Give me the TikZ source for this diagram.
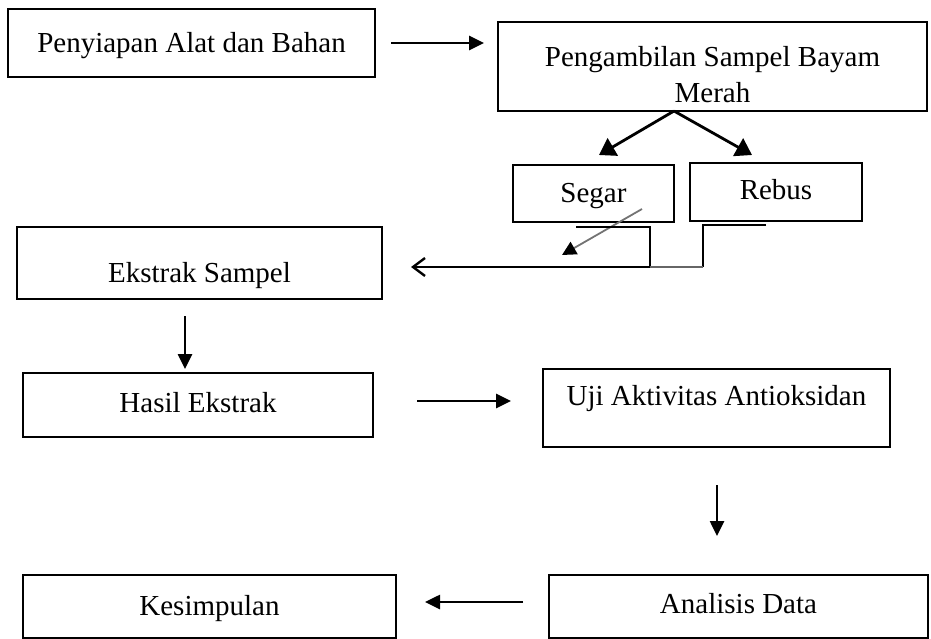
\documentclass[tikz,border=0pt]{standalone}
\usepackage{fontspec}
\setmainfont{Liberation Serif}
\usetikzlibrary{arrows.meta}
\begin{document}
\begin{tikzpicture}[x=1pt,y=-1pt,
  box/.style={draw, line width=2pt, inner sep=0pt, outer sep=0pt},
  txt/.style={inner sep=0pt, anchor=base, font=\fontsize{29}{35}\selectfont},
  arr/.style={line width=2.6pt, -{Triangle[length=15pt,width=14pt]}},
  forkarr/.style={line width=2.8pt, -{Triangle[length=16pt,width=20pt]}},
  grayarr/.style={line width=1.8pt, draw=black!55, -{Triangle[length=14pt,width=14pt,color=black]}},
  openarr/.style={line width=2.4pt, -{Straight Barb[length=12pt,width=18pt,line width=2.4pt]}},
  link/.style={line width=2.4pt},
  thinlink/.style={line width=1.2pt, draw=black!60}]
\useasboundingbox (0,0) rectangle (931,639);

% boxes
\node[box, minimum width=367pt, minimum height=68pt] (b1) at (191.5,43) {};
\node[box, minimum width=429pt, minimum height=89pt] (b2) at (712.5,66.5) {};
\node[box, minimum width=161pt, minimum height=57pt] (bseg) at (593.5,193.5) {};
\node[box, minimum width=172pt, minimum height=58pt] (breb) at (776,192) {};
\node[box, minimum width=365pt, minimum height=72pt] (bek) at (199.5,263) {};
\node[box, minimum width=350pt, minimum height=64pt] (bhas) at (198,405) {};
\node[box, minimum width=347pt, minimum height=78pt] (buji) at (716.5,408) {};
\node[box, minimum width=373pt, minimum height=63pt] (bkes) at (209.5,606.5) {};
\node[box, minimum width=379pt, minimum height=63pt] (bana) at (738.5,606.5) {};

% texts
\node[txt] (t1) at (191.5,53) {Penyiapan Alat dan Bahan};
\node[txt] (t2a) at (712.5,67) {Pengambilan Sampel Bayam};
\node[txt] (t2b) at (712.5,103) {Merah};
\node[txt] (tseg) at (593.5,202) {Segar};
\node[txt] (treb) at (776,200) {Rebus};
\node[txt] (tek) at (199.5,282) {Ekstrak Sampel};
\node[txt] (thas) at (198,412) {Hasil Ekstrak};
\node[txt] (tuji) at (716.5,405) {Uji Aktivitas Antioksidan};
\node[txt] (tkes) at (209.5,615) {Kesimpulan};
\node[txt] (tana) at (738.5,613) {Analisis Data};

% connector points
\coordinate (a1s) at (391,43);  \coordinate (a1e) at (484,43);
\coordinate (fk) at (674,111);
\coordinate (fkl) at (599,155); \coordinate (fkr) at (752,155);
\coordinate (gs) at (642,209);  \coordinate (ge) at (562,255);
\coordinate (s1) at (576,227);  \coordinate (s2) at (650,227);
\coordinate (s3) at (650,267);  \coordinate (ekin) at (411,267);
\coordinate (r1) at (766,225);  \coordinate (r2) at (703,225);
\coordinate (r3) at (703,267);
\coordinate (d1s) at (185,316); \coordinate (d1e) at (185,369);
\coordinate (hs) at (417,401);  \coordinate (he) at (511,401);
\coordinate (d2s) at (717,485); \coordinate (d2e) at (717,536);
\coordinate (ls) at (523,602);  \coordinate (le) at (425,602);

% connectors
\draw[arr] (a1s) -- (a1e);
\draw[forkarr] (fk) -- (fkl);
\draw[forkarr] (fk) -- (fkr);
\draw[grayarr] (gs) -- (ge);
\draw[link] (s1) -- (s2) -- (s3);
\draw[openarr] (s3) -- (ekin);
\draw[link] (r1) -- (r2) -- (r3);
\draw[thinlink] (r3) -- (s3);
\draw[arr] (d1s) -- (d1e);
\draw[arr] (hs) -- (he);
\draw[arr] (d2s) -- (d2e);
\draw[arr] (ls) -- (le);
\end{tikzpicture}
\end{document}
